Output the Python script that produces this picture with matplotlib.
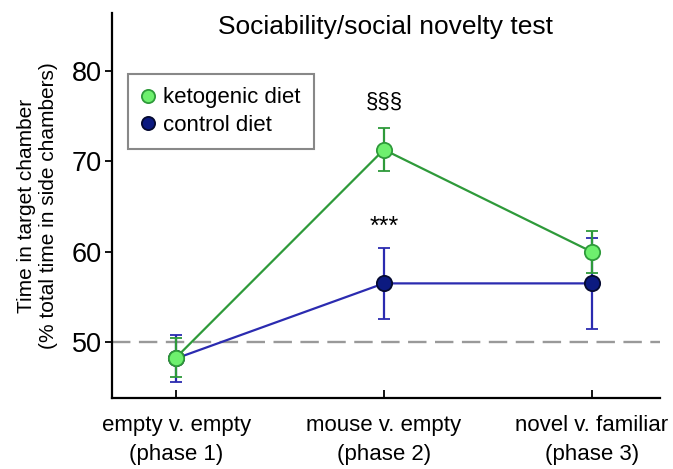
import matplotlib
matplotlib.use("Agg")
import matplotlib.pyplot as plt
from matplotlib.lines import Line2D

plt.rcParams['font.family'] = ['Liberation Sans', 'DejaVu Sans']

categories = ["empty v. empty\n(phase 1)", "mouse v. empty\n(phase 2)", "novel v. familiar\n(phase 3)"]
keto_mean = [48.3, 71.3, 60.0]
keto_err = [2.2, 2.4, 2.3]
ctrl_mean = [48.2, 56.5, 56.5]
ctrl_err = [2.6, 3.9, 5.0]
yticks = [50, 60, 70, 80]

fig = plt.figure(figsize=(6.73, 4.69), dpi=100)
ax = fig.add_axes([0.166, 0.151, 0.815, 0.821])

x = [1, 2, 3]
ax.axhline(50, color='#999999', lw=1.7, dashes=(7.8, 3.6), zorder=1)

ax.errorbar(x, ctrl_mean, yerr=ctrl_err, color='#2b2bb0', lw=1.6, capsize=4.5, capthick=1.6,
            marker='o', ms=11, mfc='#0c1a80', mec='#050a30', mew=1.3, zorder=3)
ax.errorbar(x, keto_mean, yerr=keto_err, color='#2e9a3a', lw=1.6, capsize=4.5, capthick=1.6,
            marker='o', ms=11, mfc='#6ef06e', mec='#2e9a3a', mew=1.3, zorder=4)

ax.text(2, 76.6, '§§§', ha='center', va='center', fontsize=16)
ax.text(2, 62.8, '***', ha='center', va='center', fontsize=18)

ax.set_xlim(0.69, 3.33)
ax.set_ylim(43.8, 86.4)
ax.set_xticks(x)
ax.set_xticklabels(categories, fontsize=16, linespacing=1.5)
ax.set_yticks(yticks)
ax.tick_params(axis='y', direction='out', labelsize=19.5, length=5, width=1.3, pad=2)
ax.tick_params(axis='x', direction='in', length=6, width=1.3, pad=12)
ax.spines['top'].set_visible(False)
ax.spines['right'].set_visible(False)
for s in ['left', 'bottom']:
    ax.spines[s].set_linewidth(1.6)

ax.set_ylabel('Time in target chamber\n(% total time in side chambers)', fontsize=15, labelpad=10)
ax.set_title('Sociability/social novelty test', fontsize=19, y=0.925)

handles = [
    Line2D([], [], ls='none', marker='o', ms=9.5, mfc='#6ef06e', mec='#2e9a3a', mew=1.3),
    Line2D([], [], ls='none', marker='o', ms=9.5, mfc='#0c1a80', mec='#050a30', mew=1.3),
]
leg = ax.legend(handles, ['ketogenic diet', 'control diet'], loc='upper left', bbox_to_anchor=(0.029, 0.842),
                fontsize=16, frameon=True, fancybox=False, edgecolor='#888888', framealpha=1,
                handlelength=0.6, handletextpad=0.4, borderpad=0.6, labelspacing=0.3, borderaxespad=0)
leg.get_frame().set_linewidth(1.5)

fig.savefig('out.png', dpi=100)
